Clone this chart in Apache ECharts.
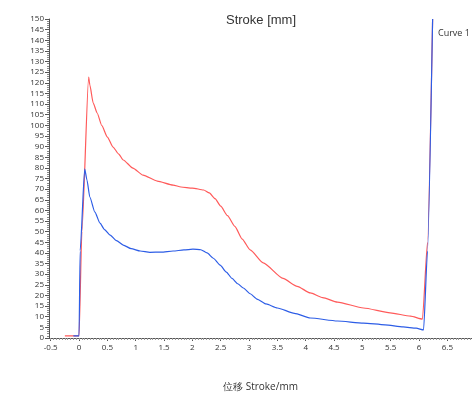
<!DOCTYPE html>
<html><head><meta charset="utf-8">
<script src="https://cdn.jsdelivr.net/npm/echarts@6/dist/echarts.min.js"></script>
<style>html,body{margin:0;padding:0;background:#fff}#c{width:472px;height:400px}</style>
</head><body><div id="c"></div>
<script>
const titleText = 'Stroke [mm]';
const xName = '位移 Stroke/mm';
const legendNames = ['Curve 1'];
const xTickLabels = [-0.5, 0, 0.5, 1, 1.5, 2, 2.5, 3, 3.5, 4, 4.5, 5, 5.5, 6, 6.5];
const redX = [-0.25, -0.1, 0.0, 0.05, 0.17, 0.19, 0.25, 0.32, 0.4, 0.5, 0.6, 0.7, 0.78, 0.95, 1.13, 1.38, 1.66, 1.8, 2.0, 2.2, 2.3, 2.4, 2.5, 2.62, 2.75, 2.88, 3.02, 3.25, 3.6, 3.85, 4.08, 4.3, 4.56, 5.02, 5.49, 5.85, 6.06, 6.15, 6.24];
const redY = [1, 1, 1, 50, 122.7, 119, 110.5, 105.8, 100, 94.5, 89.8, 86.5, 83.7, 79.9, 76.6, 73.8, 71.9, 71, 70.5, 69.6, 68.2, 65.5, 62, 57.5, 52.5, 46.5, 41.4, 35.3, 28, 24.3, 21.2, 19, 16.9, 14.1, 11.8, 10.3, 8.9, 45, 150];
const blueX = [-0.1, 0.0, 0.02, 0.1, 0.14, 0.19, 0.28, 0.37, 0.45, 0.55, 0.66, 0.78, 0.92, 1.08, 1.25, 1.45, 1.66, 1.85, 2.01, 2.15, 2.26, 2.37, 2.49, 2.6, 2.7, 2.8, 2.9, 3.02, 3.14, 3.3, 3.5, 3.8, 4.08, 4.56, 5.02, 5.4, 5.72, 5.95, 6.08, 6.15, 6.24];
const blueY = [1, 1, 41, 79.5, 74.3, 66.3, 59.2, 54, 51, 48.4, 45.8, 43.7, 42, 40.9, 40.3, 40.4, 40.9, 41.4, 41.8, 41.5, 40, 37.5, 34.3, 31, 28, 25.5, 23.5, 20.8, 18.3, 16, 14.1, 11.6, 9.4, 8, 7, 6.2, 5.2, 4.6, 3.8, 41, 150];

const minorX = [];
for (let i = -10; i <= 139; i++) minorX.push(+(i * 0.05).toFixed(2));

const chart = echarts.init(document.getElementById('c'), null, {renderer: 'canvas'});
const axisCol = '#555';
chart.setOption({
  animation: false,
  title: {text: titleText, left: 221, top: 9, textStyle: {fontSize: 13, fontWeight: 'normal', color: '#333', fontFamily: 'Liberation Sans'}},
  legend: {data: legendNames, left: 427, top: 24, itemWidth: 0, itemHeight: 0, itemGap: 0, textStyle: {fontSize: 9, color: '#333', fontFamily: 'Open Sans'}},
  grid: {left: 49, right: 0, top: 19, bottom: 62},
  xAxis: [{
    type: 'value', min: -0.53, max: 6.935,
    name: xName, nameLocation: 'middle', nameGap: 44,
    nameTextStyle: {fontSize: 10, color: '#333', fontFamily: 'Open Sans'},
    axisLine: {show: true, onZero: false, lineStyle: {color: axisCol, width: 1}},
    axisTick: {show: true, length: 3, customValues: xTickLabels, lineStyle: {color: axisCol}},
    axisLabel: {customValues: xTickLabels, fontSize: 8, color: '#333', margin: 6, fontFamily: 'Open Sans'},
    splitLine: {show: false}
  }, {
    type: 'value', min: -0.53, max: 6.935, position: 'bottom',
    axisLine: {show: false, onZero: false},
    axisTick: {show: true, length: 2, customValues: minorX, lineStyle: {color: '#999'}},
    axisLabel: {show: false}, splitLine: {show: false}
  }],
  yAxis: {
    type: 'value', min: 0, max: 150, interval: 5,
    axisLine: {show: true, onZero: false, lineStyle: {color: axisCol, width: 1}},
    axisTick: {show: true, length: 4, lineStyle: {color: axisCol}},
    minorTick: {show: true, splitNumber: 5, length: 2, lineStyle: {color: '#888'}},
    axisLabel: {fontSize: 8, color: '#333', margin: 5, fontFamily: 'Open Sans'},
    splitLine: {show: false}
  },
  series: [
    {name: 'Curve 2', type: 'line', showSymbol: false, symbol: 'none', smooth: 0.2, smoothMonotone: 'x', data: redX.map((x, i) => [x, redY[i]]), lineStyle: {color: '#ff5a5a', width: 1.2}, itemStyle: {color: '#ff5a5a'}},
    {name: 'Curve 1', type: 'line', showSymbol: false, symbol: 'none', smooth: 0.2, smoothMonotone: 'x', data: blueX.map((x, i) => [x, blueY[i]]), lineStyle: {color: '#2d5de6', width: 1.2}, itemStyle: {color: '#2d5de6'}}
  ]
});
</script></body></html>
